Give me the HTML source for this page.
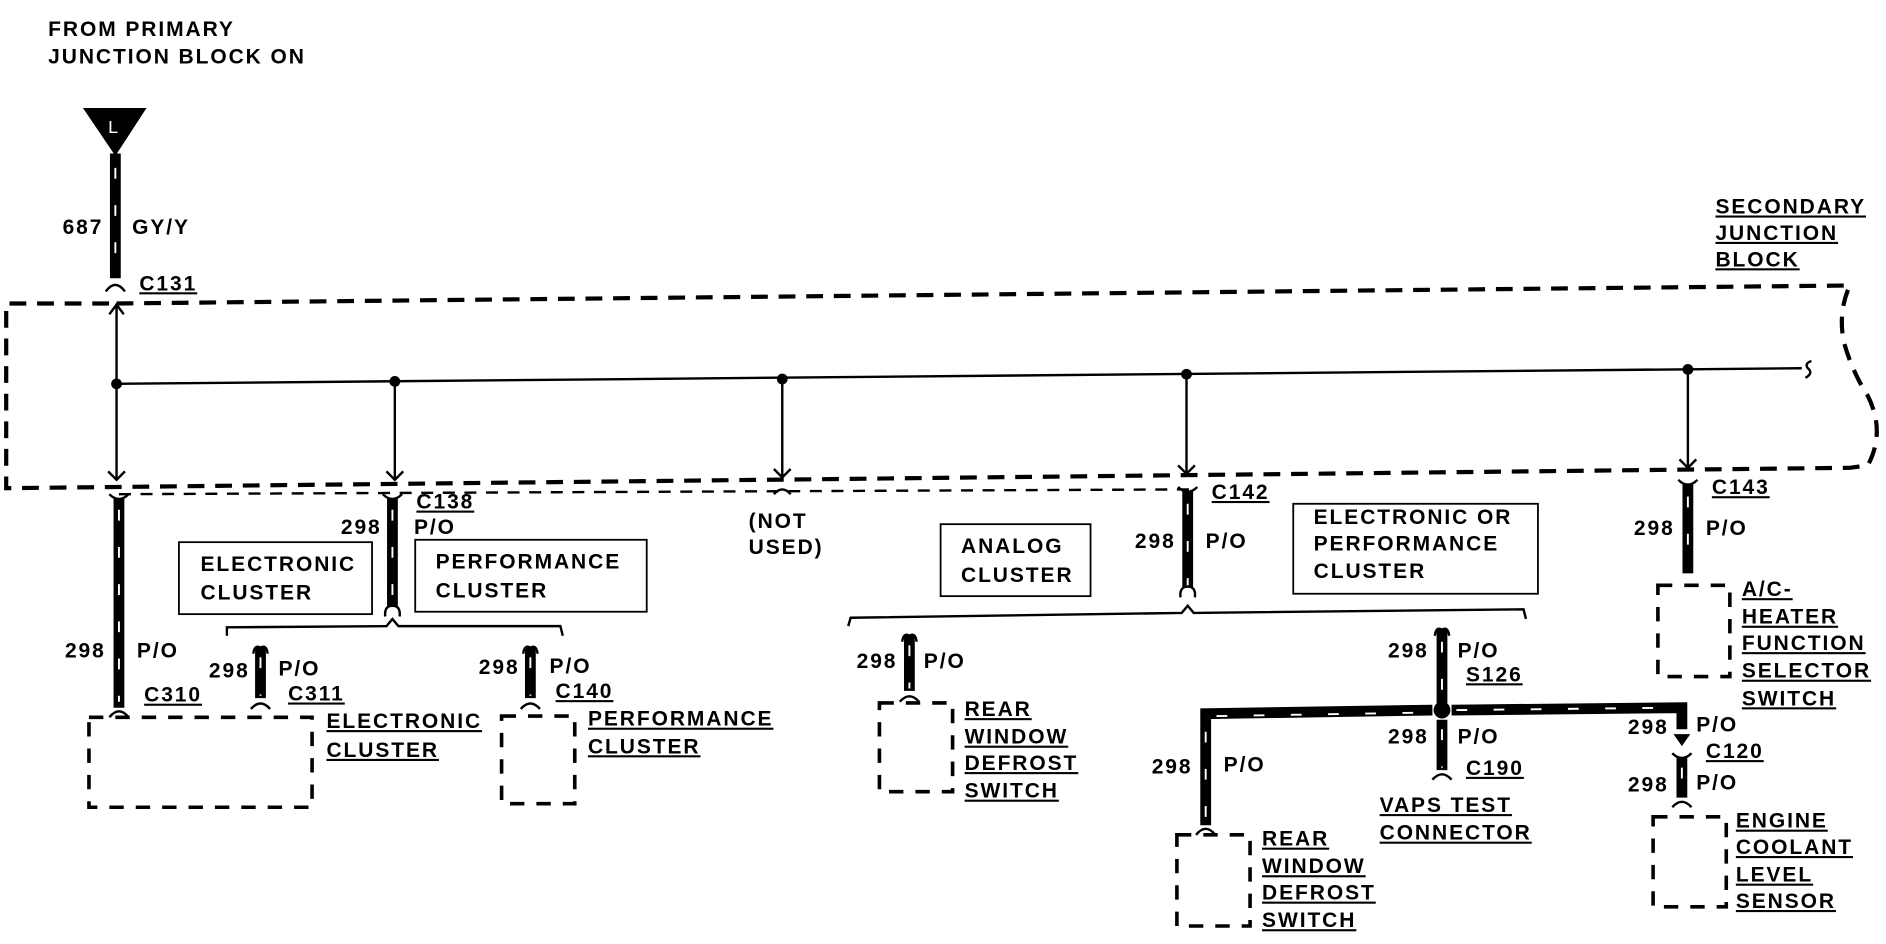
<!DOCTYPE html>
<html><head><meta charset="utf-8"><style>
html,body{margin:0;padding:0;background:#fff;}
svg{display:block;}
text{font-family:"Liberation Sans",Arial,sans-serif;font-weight:bold;font-size:17.5px;letter-spacing:1.6px;fill:#000;}
.u{text-decoration:underline;}
.w{stroke:#000;stroke-width:9;fill:none;}
.wd{stroke:#fff;stroke-width:1.6;stroke-dasharray:9 22;fill:none;}
.t{stroke:#000;stroke-width:2;fill:none;}
.db{stroke:#000;stroke-width:3.5;stroke-dasharray:14 9;fill:none;}
.ds{stroke:#000;stroke-width:3;stroke-dasharray:12 10;fill:none;}
.dt{stroke:#000;stroke-width:2;stroke-dasharray:10 8;fill:none;}
.bx{stroke:#000;stroke-width:1.5;fill:none;}
</style></head><body>
<svg width="1886" height="944" viewBox="0 0 1568 787" xmlns="http://www.w3.org/2000/svg">
<text x="38" y="30">FROM PRIMARY</text>
<text x="38" y="53">JUNCTION BLOCK ON</text>
<polygon points="67,90 120,90 94,130" fill="#000"/>
<text x="88" y="111" style="fill:#fff;font-weight:normal;font-size:15px;letter-spacing:0">L</text>
<line class="w" x1="94" y1="128" x2="94" y2="232"/><line class="wd" x1="94" y1="140" x2="94" y2="232"/>
<path d="M86,243 Q94,232 102,243" class="t" stroke-width="4"/>
<text x="50" y="195">687</text><text x="108" y="195">GY/Y</text>
<text x="114" y="242" class="u">C131</text>
<text x="1428" y="178" class="u">SECONDARY</text>
<text x="1428" y="200" class="u">JUNCTION</text>
<text x="1428" y="222" class="u">BLOCK</text>
<path class="db" d="M95,253 L1540,238 Q1530,260 1535,285 Q1542,310 1555,330 Q1570,360 1555,388 L1540,390 L3,407 L3,253 L95,253"/>
<line class="dt" x1="97" y1="412" x2="990" y2="408"/>
<line class="t" x1="94" y1="320" x2="1500" y2="307"/>
<path class="t" d="M1508,301 Q1502,303 1505,307 Q1510,311 1503,315"/>
<g fill="#000"><circle cx="95" cy="320" r="4.5"/><circle cx="327" cy="318" r="4.5"/><circle cx="650" cy="316" r="4.5"/><circle cx="987" cy="312" r="4.5"/><circle cx="1405" cy="308" r="4.5"/></g>
<line class="t" x1="95" y1="253" x2="95" y2="400"/>
<path class="t" d="M89,262 L95,254 L101,262 M88,393 L95,400 L102,393"/>
<line class="t" x1="327" y1="318" x2="327" y2="400"/><path class="t" d="M320,393 L327,400 L334,393"/>
<line class="t" x1="650" y1="316" x2="650" y2="398"/><path class="t" d="M643,391 L650,398 L657,391"/>
<line class="t" x1="987" y1="312" x2="987" y2="395"/><path class="t" d="M980,388 L987,395 L994,388"/>
<line class="t" x1="1405" y1="308" x2="1405" y2="390"/><path class="t" d="M1398,383 L1405,390 L1412,383"/>
<path class="t" stroke-width="4" d="M89,412 Q97,420 105,412"/>
<line class="w" x1="97" y1="416" x2="97" y2="590"/><line class="wd" x1="97" y1="425" x2="97" y2="585"/>
<path class="t" stroke-width="4" d="M89,598 Q97,588 105,598"/>
<text x="52" y="548">298</text><text x="112" y="548">P/O</text>
<text x="118" y="585" class="u">C310</text>
<path class="t" stroke-width="4" d="M317,412 Q325,420 333,412"/>
<line class="w" x1="325" y1="416" x2="325" y2="505"/><line class="wd" x1="325" y1="425" x2="325" y2="505"/>
<path class="t" stroke-width="3" d="M319,514 Q318,505 325,505 Q332,505 331,514"/>
<text x="345" y="424" class="u">C138</text>
<text x="282" y="445">298</text><text x="343" y="445">P/O</text>
<rect class="bx" x="147" y="452" width="161" height="60"/>
<text x="165" y="476">ELECTRONIC</text><text x="165" y="500">CLUSTER</text>
<rect class="bx" x="344" y="450" width="193" height="60"/>
<text x="361" y="474">PERFORMANCE</text><text x="361" y="498">CLUSTER</text>
<path class="t" stroke-width="3" d="M187,530 L187,523 L320,522 L325,516 L330,522 L465,522 L467,530"/>
<path class="t" stroke-width="3" d="M209,545 Q210,537 215,540 Q220,537 221,545"/>
<line class="w" x1="215" y1="540" x2="215" y2="582"/><line class="wd" x1="215" y1="548" x2="215" y2="580"/>
<path class="t" stroke-width="4" d="M207,591 Q215,582 223,591"/>
<text x="172" y="565">298</text><text x="230" y="563">P/O</text><text x="238" y="584" class="u">C311</text>
<path class="t" stroke-width="3" d="M434,545 Q435,537 440,540 Q445,537 446,545"/>
<line class="w" x1="440" y1="540" x2="440" y2="582"/><line class="wd" x1="440" y1="548" x2="440" y2="580"/>
<path class="t" stroke-width="4" d="M432,591 Q440,582 448,591"/>
<text x="397" y="562">298</text><text x="456" y="561">P/O</text><text x="461" y="582" class="u">C140</text>
<rect class="ds" x="72" y="598" width="186" height="75"/>
<text x="270" y="607" class="u">ELECTRONIC</text><text x="270" y="631" class="u">CLUSTER</text>
<rect class="ds" x="416" y="597" width="61" height="73"/>
<text x="488" y="605" class="u">PERFORMANCE</text><text x="488" y="628" class="u">CLUSTER</text>
<path class="t" stroke-width="3" d="M643,412 Q650,404 657,412"/>
<text x="622" y="440">(NOT</text><text x="622" y="462">USED)</text>
<path class="t" stroke-width="4" d="M980,406 Q988,414 996,406"/>
<line class="w" x1="988" y1="410" x2="988" y2="490"/><line class="wd" x1="988" y1="420" x2="988" y2="488"/>
<path class="t" stroke-width="3" d="M982,498 Q981,489 988,489 Q995,489 994,498"/>
<text x="1008" y="416" class="u">C142</text>
<text x="944" y="457">298</text><text x="1003" y="457">P/O</text>
<rect class="bx" x="782" y="437" width="125" height="60"/>
<text x="799" y="461">ANALOG</text><text x="799" y="485">CLUSTER</text>
<rect class="bx" x="1076" y="420" width="204" height="75"/>
<text x="1093" y="437">ELECTRONIC OR</text><text x="1093" y="459">PERFORMANCE</text><text x="1093" y="482">CLUSTER</text>
<path class="t" stroke-width="3" d="M705,522 L707,515 L983,511 L988,505 L993,511 L1268,508 L1270,516"/>
<path class="t" stroke-width="3" d="M750,535 Q751,527 756,530 Q761,527 762,535"/>
<line class="w" x1="756" y1="530" x2="756" y2="576"/><line class="wd" x1="756" y1="538" x2="756" y2="574"/>
<path class="t" stroke-width="4" d="M748,585 Q756,576 764,585"/>
<text x="712" y="557">298</text><text x="768" y="557">P/O</text>
<rect class="ds" x="731" y="586" width="61" height="74"/>
<text x="802" y="597" class="u">REAR</text><text x="802" y="620" class="u">WINDOW</text><text x="802" y="642" class="u">DEFROST</text><text x="802" y="665" class="u">SWITCH</text>
<path class="t" stroke-width="3" d="M1194,530 Q1195,522 1200,525 Q1205,522 1206,530"/>
<line class="w" x1="1200" y1="525" x2="1200" y2="588"/><line class="wd" x1="1200" y1="535" x2="1200" y2="585"/>
<circle cx="1200" cy="592" r="7" fill="#000"/>
<line class="w" x1="1200" y1="600" x2="1200" y2="642"/><line class="wd" x1="1200" y1="608" x2="1200" y2="640"/>
<path class="t" stroke-width="4" d="M1192,650 Q1200,641 1208,650"/>
<text x="1155" y="548">298</text><text x="1213" y="548">P/O</text><text x="1220" y="568" class="u">S126</text>
<text x="1155" y="620">298</text><text x="1213" y="620">P/O</text><text x="1220" y="646" class="u">C190</text>
<text x="1148" y="677" class="u">VAPS TEST</text><text x="1148" y="700" class="u">CONNECTOR</text>
<path class="w" d="M1003,688 L1003,595 L1192,592"/><path class="w" d="M1208,592 L1400,590 L1400,608"/>
<path class="wd" d="M1012,597 L1190,594 M1212,592 L1395,590" stroke-dasharray="10 20"/>
<line class="wd" x1="1003" y1="610" x2="1003" y2="685"/>
<path class="t" stroke-width="4" d="M995,696 Q1003,686 1011,696"/>
<text x="958" y="645">298</text><text x="1018" y="643">P/O</text>
<rect class="ds" x="979" y="696" width="61" height="76"/>
<text x="1050" y="705" class="u">REAR</text><text x="1050" y="728" class="u">WINDOW</text><text x="1050" y="750" class="u">DEFROST</text><text x="1050" y="773" class="u">SWITCH</text>
<path d="M1393,612 L1407,612 L1400,622 Z" fill="#000"/>
<path class="t" stroke-width="4" d="M1392,628 Q1400,636 1408,628"/>
<line class="w" x1="1400" y1="632" x2="1400" y2="665"/><line class="wd" x1="1400" y1="640" x2="1400" y2="662"/>
<path class="t" stroke-width="4" d="M1392,673 Q1400,664 1408,673"/>
<text x="1355" y="612">298</text><text x="1412" y="610">P/O</text><text x="1420" y="632" class="u">C120</text>
<text x="1355" y="660">298</text><text x="1412" y="658">P/O</text>
<rect class="ds" x="1376" y="681" width="61" height="75"/>
<text x="1445" y="690" class="u">ENGINE</text><text x="1445" y="712" class="u">COOLANT</text><text x="1445" y="735" class="u">LEVEL</text><text x="1445" y="757" class="u">SENSOR</text>
<path class="t" stroke-width="4" d="M1397,400 Q1405,408 1413,400"/>
<line class="w" x1="1405" y1="404" x2="1405" y2="478"/><line class="wd" x1="1405" y1="414" x2="1405" y2="475"/>
<text x="1425" y="412" class="u">C143</text>
<text x="1360" y="446">298</text><text x="1420" y="446">P/O</text>
<rect class="ds" x="1380" y="488" width="60" height="76"/>
<text x="1450" y="497" class="u">A/C-</text><text x="1450" y="520" class="u">HEATER</text><text x="1450" y="542" class="u">FUNCTION</text><text x="1450" y="565" class="u">SELECTOR</text><text x="1450" y="588" class="u">SWITCH</text>
</svg>
</body></html>
